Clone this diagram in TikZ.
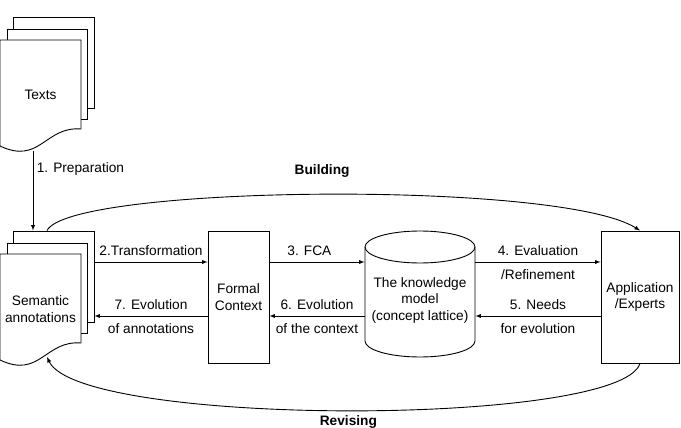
\documentclass[tikz,border=0pt]{standalone}
\usepackage{fontspec}
\setmainfont{Liberation Sans}
\usetikzlibrary{arrows,positioning,calc}

\begin{document}
\begin{tikzpicture}[
    x=1pt, y=-1pt,
    font=\fontsize{13.7}{16.5}\selectfont,
    sheet/.style={rectangle, draw, fill=white, minimum width=81pt, minimum height=91pt, inner sep=0pt},
    box/.style={rectangle, draw, minimum height=132pt, inner sep=0pt, align=center},
    up/.style={above=3pt},
    down/.style={below=4pt},
    arrow/.style={->, >=latex, line width=0.9pt},
    every path/.style={line width=0.9pt}
]
\useasboundingbox (0,0) rectangle (681,428);

% rows of the horizontal arrows
\coordinate (upper) at (0,262);
\coordinate (lower) at (0,316);

% stack of texts
\node[sheet] (textsback) at (53.5,62.5) {};
\node[sheet, minimum width=80pt, minimum height=90pt] (textsmid) at (47,74) {};
\draw[fill=white] (0,40) -- (81,40) -- (81,129) .. controls (45,126) and (40,165) .. (0,146) -- cycle;
\node (texts) at (40.5,95) {Texts};
\coordinate (textsbot) at (33,151);

% stack of semantic annotations
\node[sheet] (semback) at (53.5,276.5) {};
\node[sheet, minimum width=80pt, minimum height=90pt] (semmid) at (47,288) {};
\draw[fill=white] (0,254) -- (81,254) -- (81,343) .. controls (45,340) and (40,379) .. (0,360) -- cycle;
\node[align=center] (sem) at (40.5,309) {Semantic\\annotations};
\coordinate (semwave) at (47,357);

% formal context, knowledge model, application
\node[box, minimum width=61pt] (fc) at (238.5,297) {Formal\\Context};
\draw (420,247) ellipse [x radius=55pt, y radius=16pt];
\draw (365,247) -- (365,341) arc[start angle=180, end angle=360, x radius=55pt, y radius=16pt] -- (475,247);
\node[align=center, minimum width=110pt, inner sep=0pt] (km) at (420,300) {The knowledge\\model\\(concept lattice)};
\node[box, minimum width=78pt] (app) at (640,297) {Application\\/Experts};

% arrows
\draw[arrow] (textsbot) -- node[right, pos=0.23] {1. Preparation} (textsbot |- semback.north);
\draw[arrow] (semback.east |- upper) -- node[up] {2.Transformation} (fc.west |- upper);
\draw[arrow] (fc.east |- upper) -- node[up, pos=0.42] {3. FCA} (km.west |- upper);
\draw[arrow] (km.east |- upper) -- node[up] {4. Evaluation} node[down] {/Refinement} (app.west |- upper);
\draw[arrow] (app.west |- lower) -- node[up] {5. Needs} node[down] {for evolution} (km.east |- lower);
\draw[arrow] (km.west |- lower) -- node[up] {6. Evolution} node[down] {of the context} (fc.east |- lower);
\draw[arrow] (fc.west |- lower) -- node[up] {7. Evolution} node[down] {of annotations} (semback.east |- lower);

\draw[arrow] ([xshift=-6.5pt]semback.north) .. controls (70,185) and (560,180) .. node[above=13pt] {\bfseries Building} (app.north);
\draw[arrow] (app.south) .. controls (620,427) and (80,427) .. node[below=1pt] {\bfseries Revising} (semwave);
\end{tikzpicture}
\end{document}
